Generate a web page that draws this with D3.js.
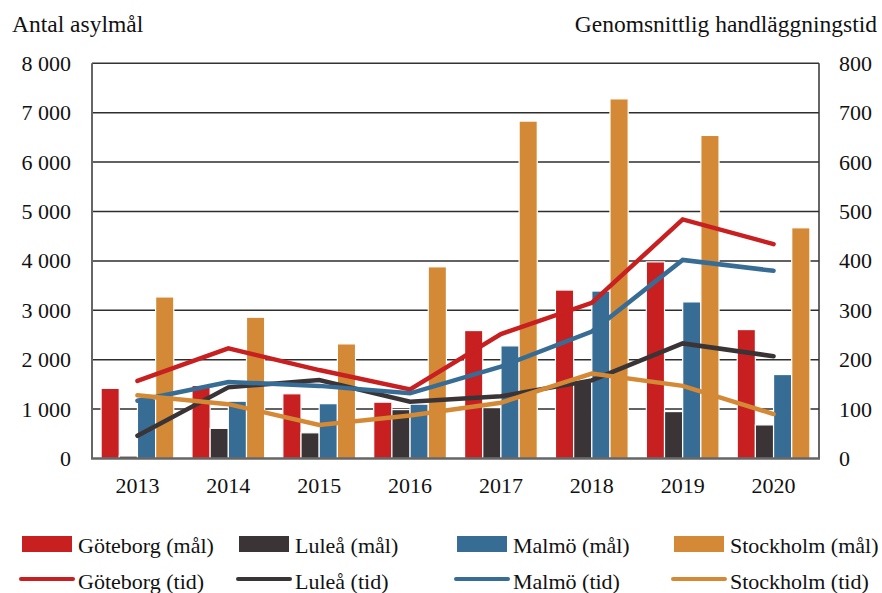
<!DOCTYPE html>
<meta charset="utf-8">
<style>
body {
    margin: 0px;
    background: white;
    font-family: "Liberation Serif", "DejaVu Serif", serif;
}
.label {
  font-size: 22px;
  fill: #111;
}
.title {
  font-size: 23.5px;
  fill: #111;
}
</style>
<body>
<script src="https://d3js.org/d3.v7.min.js"></script>
<script>
var width = 882,
    height = 593

// Data
var years = ["2013", "2014", "2015", "2016", "2017", "2018", "2019", "2020"]
var cities = ["Göteborg", "Luleå", "Malmö", "Stockholm"]
var cityColors = ["#C81F21", "#3A3436", "#376D95", "#D48936"]

// Antal asylmål (left axis)
var malGoteborg  = [1420, 1480, 1310, 1140, 2590, 3410, 3980, 2610]
var malLulea     = [50, 610, 520, 990, 1030, 1550, 950, 680]
var malMalmo     = [1200, 1160, 1110, 1100, 2280, 3390, 3170, 1700]
var malStockholm = [3270, 2860, 2320, 3880, 6830, 7280, 6540, 4670]

// Genomsnittlig handläggningstid (right axis)
var tidGoteborg  = [157, 223, 179, 140, 252, 315, 484, 434]
var tidLulea     = [46, 144, 159, 115, 126, 158, 233, 207]
var tidMalmo     = [117, 155, 147, 132, 186, 257, 402, 380]
var tidStockholm = [128, 110, 68, 87, 113, 172, 147, 90]

var leftTicks = [0, 1000, 2000, 3000, 4000, 5000, 6000, 7000, 8000]
var rightTicks = [0, 100, 200, 300, 400, 500, 600, 700, 800]

var malSeries = [malGoteborg, malLulea, malMalmo, malStockholm]
var tidSeries = [tidGoteborg, tidLulea, tidMalmo, tidStockholm]

var margin = {left: 92, right: 63, top: 63.3, bottom: 134.5}
var plotW = width - margin.left - margin.right,
    plotH = height - margin.top - margin.bottom

var svg = d3.select("body").append("svg")
    .attr("width", width)
    .attr("height", height)

var g = svg.append("g")
    .attr("transform", "translate(" + margin.left + "," + margin.top + ")")

// Scales
var x0 = d3.scaleBand()
    .domain(years)
    .range([0, plotW])
    .paddingInner(0.2)
    .paddingOuter(0.1)

var x1 = d3.scaleBand()
    .domain(cities)
    .range([0, x0.bandwidth()])

var yLeft = d3.scaleLinear()
    .domain([0, 8000])
    .range([plotH, 0])

var yRight = d3.scaleLinear()
    .domain([0, 800])
    .range([plotH, 0])

var fmt = function(d) { return d3.format(",")(d).replace(",", " ") }

// Gridlines
g.append("g").selectAll("line")
    .data(leftTicks.slice(1, -1))
    .enter().append("line")
    .attr("x1", 0)
    .attr("x2", plotW)
    .attr("y1", function(d) { return yLeft(d) })
    .attr("y2", function(d) { return yLeft(d) })
    .attr("stroke", "#2e2e2e")
    .attr("stroke-width", 1.5)

// Bars
var groups = g.append("g").selectAll("g")
    .data(years)
    .enter().append("g")
    .attr("transform", function(d) { return "translate(" + x0(d) + ",0)" })

groups.selectAll("rect")
    .data(function(d, i) {
        return cities.map(function(c, j) { return {city: c, idx: j, value: malSeries[j][i]} })
    })
    .enter().append("rect")
    .attr("x", function(d) { return x1(d.city) })
    .attr("width", x1.bandwidth())
    .attr("y", function(d) { return yLeft(d.value) })
    .attr("height", function(d) { return plotH - yLeft(d.value) })
    .attr("fill", function(d) { return cityColors[d.idx] })
    .attr("stroke", "white")
    .attr("stroke-width", 1.2)

// Frame
g.append("line")
    .attr("x1", 0).attr("x2", plotW).attr("y1", 0).attr("y2", 0)
    .attr("stroke", "#333").attr("stroke-width", 1.5)
g.append("line")
    .attr("x1", plotW).attr("x2", plotW).attr("y1", 0).attr("y2", plotH)
    .attr("stroke", "#333").attr("stroke-width", 1.5)
g.append("line")
    .attr("x1", 0).attr("x2", 0).attr("y1", 0).attr("y2", plotH)
    .attr("stroke", "#666").attr("stroke-width", 2)
g.append("line")
    .attr("x1", -1).attr("x2", plotW + 1).attr("y1", plotH).attr("y2", plotH)
    .attr("stroke", "#666").attr("stroke-width", 2.5)

// Lines
var line = d3.line()
    .x(function(d, i) { return x0(years[i]) + x0.bandwidth() / 2 })
    .y(function(d) { return yRight(d) })

g.append("g").selectAll("path")
    .data(tidSeries)
    .enter().append("path")
    .attr("d", line)
    .attr("fill", "none")
    .attr("stroke", function(d, i) { return cityColors[i] })
    .attr("stroke-width", 4.5)
    .attr("stroke-linecap", "round")
    .attr("stroke-linejoin", "miter")

// Left axis labels
g.append("g").selectAll("text")
    .data(leftTicks)
    .enter().append("text")
    .attr("class", "label")
    .attr("x", -21)
    .attr("y", function(d) { return yLeft(d) + 7.5 })
    .attr("text-anchor", "end")
    .text(fmt)

// Right axis labels
g.append("g").selectAll("text")
    .data(rightTicks)
    .enter().append("text")
    .attr("class", "label")
    .attr("x", plotW + 20)
    .attr("y", function(d) { return yRight(d) + 7.5 })
    .text(function(d) { return d })

// X labels
g.append("g").selectAll("text")
    .data(years)
    .enter().append("text")
    .attr("class", "label")
    .attr("x", function(d) { return x0(d) + x0.bandwidth() / 2 })
    .attr("y", plotH + 34.5)
    .attr("text-anchor", "middle")
    .text(function(d) { return d })

// Axis titles
svg.append("text")
    .attr("class", "title")
    .attr("x", 12)
    .attr("y", 31.5)
    .text("Antal asylmål")

svg.append("text")
    .attr("class", "title")
    .attr("x", 877)
    .attr("y", 31.5)
    .attr("text-anchor", "end")
    .text("Genomsnittlig handläggningstid")

// Legend
var legendX = [22, 239, 457, 674]

var legBars = svg.append("g").selectAll("g")
    .data(cities)
    .enter().append("g")
    .attr("transform", function(d, i) { return "translate(" + legendX[i] + ",536)" })

legBars.append("rect")
    .attr("width", 50)
    .attr("height", 16)
    .attr("fill", function(d, i) { return cityColors[i] })

legBars.append("text")
    .attr("class", "label")
    .attr("x", 56)
    .attr("y", 17)
    .text(function(d) { return d + " (mål)" })

var legLines = svg.append("g").selectAll("g")
    .data(cities)
    .enter().append("g")
    .attr("transform", function(d, i) { return "translate(" + legendX[i] + ",579)" })

legLines.append("line")
    .attr("x1", -1)
    .attr("x2", 51)
    .attr("stroke", function(d, i) { return cityColors[i] })
    .attr("stroke-width", 4)
    .attr("stroke-linecap", "round")

legLines.append("text")
    .attr("class", "label")
    .attr("x", 56)
    .attr("y", 10)
    .text(function(d) { return d + " (tid)" })
</script>
